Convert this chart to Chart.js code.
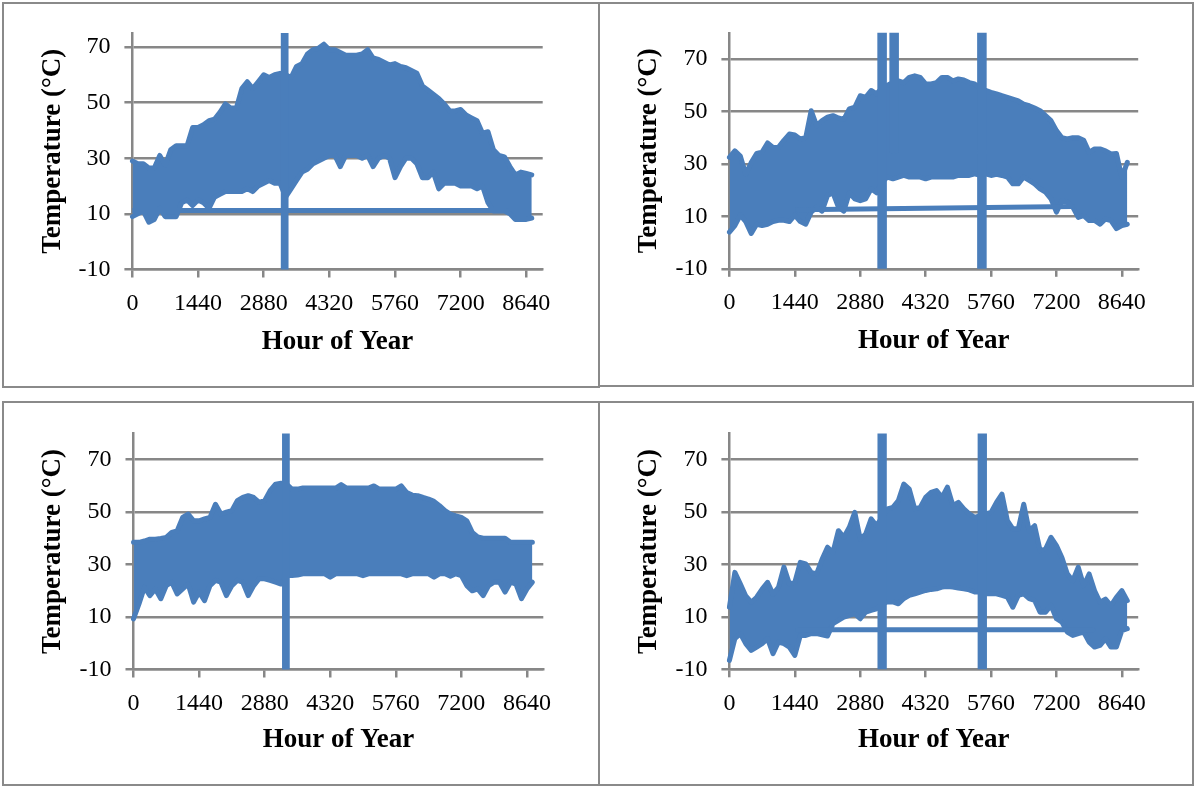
<!DOCTYPE html>
<html><head><meta charset="utf-8">
<script src="https://cdn.jsdelivr.net/npm/chart.js@4.4.0/dist/chart.umd.min.js"></script>
<style>
html,body{margin:0;padding:0;background:#fff;width:1195px;height:787px;overflow:hidden;}
.panel{position:absolute;box-sizing:border-box;border:2px solid #8a8a8a;background:#fff;}
.panel canvas{display:block;}
</style></head><body>
<div class="panel" style="left:2px;top:2px;width:598px;height:386px;"><canvas id="c1" width="594" height="382"></canvas></div>
<div class="panel" style="left:598px;top:2px;width:596px;height:385px;"><canvas id="c2" width="592" height="381"></canvas></div>
<div class="panel" style="left:2px;top:401px;width:598px;height:385px;"><canvas id="c3" width="594" height="381"></canvas></div>
<div class="panel" style="left:598px;top:401px;width:596px;height:385px;"><canvas id="c4" width="592" height="381"></canvas></div>
<script>
// ---- data ----
const hours = [0,120,240,360,480,600,720,840,960,1080,1200,1320,1440,1560,1680,1800,1920,2040,2160,2280,2400,2520,2640,2760,2880,3000,3120,3240,3360,3480,3600,3720,3840,3960,4080,4200,4320,4440,4560,4680,4800,4920,5040,5160,5280,5400,5520,5640,5760,5880,6000,6120,6240,6360,6480,6600,6720,6840,6960,7080,7200,7320,7440,7560,7680,7800,7920,8040,8160,8280,8400,8520,8640,8760];
const xTickValues = [0,1440,2880,4320,5760,7200,8640];
const xTickLabels = ['0','1440','2880','4320','5760','7200','8640'];
const yTickValues = [-10,10,30,50,70];
const yTickLabels = ['-10','10','30','50','70'];

// top-left panel
const tlHi = [29,28,28,26.5,26.5,31,27.5,33,34.5,34.5,34.5,41,41,42,43.5,44,46.5,49.5,48,48,55,57.5,55,57.5,60,59,60,60.5,60,59,63,64,67.5,69,69.5,71,69,69,68,67,67,67,67.5,69,66,65.5,64.5,63.5,64,63,62.5,61.5,60.5,56,54.5,53,51.5,49.5,47,47,47.5,45.5,44.5,43.5,39,39.5,33,31,30.5,27,24,25,24.5,24];
const tlLo = [9,10,11,7,8,12,9,9,9,14,15,13,15,14,12,16,17,18,18,18,18,19,18,20,21,22,21,21,16,19,22,25,26,28,29,30,31,31,27,31,31,31,30,31,27,30,31,30,23,27,30,30,28,23,23,25,19,21,21,21,20,20,20,19,20,14,11,11,11,10,8,8,8,8.5];
const tlFlatHours = [0,8200];
const tlFlatTemps = [11.2,11.2];
const tlSpikeHours = [3310,3310,3370,3370];
const tlSpikeTemps = [-100,200,200,-100];

// top-right panel
const trHi = [32.5,35,33,26,30.5,34,34.5,38,36.3,36.3,39,41.4,41,39.5,40,50.3,44.6,46.5,47.8,48.4,47.5,47,51,51.6,56,55.4,58,56.7,59,60,61,61.7,61,63,63.6,63,60.5,60.5,61,63,63,61.7,62.4,62,61,60.5,59,58,57.3,56.7,56,55.4,54.7,54,52.8,52.2,51.3,50.3,48.4,46.5,42.7,40,39.5,40,40,39,34.4,35.7,35.7,35,33.8,34,24.8,30.6];
const trLo = [4,6.5,10.5,8,3.5,7,6.5,7,8,8.5,8.5,8,10.5,8,7,11.6,13.5,12,18,19,13.5,12,19,16.7,16,16.7,20.5,19,23,25,24.3,25,25.6,25,25,25,24.3,25,25,25,25,25,25.6,25.6,25.6,26.2,25.6,26.2,25.6,26,25.6,25,22.4,22.4,25,23.7,22.4,20.5,19.2,16.7,11.6,16,15.4,13.5,9.6,10.3,8.4,8.4,7,9,8.4,5.3,6.5,7];
const trFlatHours = [1500,7550];
const trFlatTemps = [12.5,13.8];
const trSpikeHours = [3312,3312,3412,3412,3450,3577,3577,3677,3677,3700,5509,5509,5609,5609];
const trSpikeTemps = [-100,200,200,-100,null,35,200,200,35,null,-100,200,200,-100];

// bottom-left panel
const blHi = [38.5,38.5,39,39.7,39.7,40,40.4,42.3,42.9,48,49.3,46.7,46.7,47.4,48,53,49.3,50,50.6,54.4,55.6,56.3,55.6,53.7,54.4,58.2,60.7,61,60.7,58.8,58.8,59.2,59.2,59.2,59.2,59.2,59.2,59.2,60.5,59.2,59.2,59.2,59.2,59.2,60,58.8,58.8,58.8,58.8,60,57.5,56.5,56.3,55.6,55,54.1,52.5,50.6,49.3,48.6,48,46.7,42.3,40.6,40.1,40.1,40.1,40.1,40.1,38.5,38.5,38.5,38.5,38.5];
const blLo = [9.3,15,21.4,18.2,20.7,17,22,23.3,18.8,20.7,22.6,15.7,19.5,16.3,22,24,23.3,18.2,22,24,23.3,18.2,22,24.6,24.6,24,23.3,22.6,25.8,25.8,26,26.5,26.5,26.5,26.5,26.5,25.2,26.5,26.5,26.5,26.5,26.5,25.8,26.5,26.5,26.5,26.5,26.5,26.5,26.5,25.8,26.5,26.5,26.5,26.5,25.2,26.5,26.5,25.6,26.5,25.8,22,20,20.7,18.2,22,23.3,23.3,19.5,23.3,22.6,17,20.7,23.3];
const blFlatHours = [];
const blFlatTemps = [];
const blSpikeHours = [3317,3317,3377,3377];
const blSpikeTemps = [-100,200,200,-100];

// bottom-right panel
const brHi = [13.7,27,22.6,18,15.6,17.5,20.6,23.2,18.7,21.3,29,22.6,23.2,30.8,30.2,27,26.4,32,36.6,34.6,42.9,40.4,44.2,49.9,39.7,41.6,47.4,44.8,48,51.2,51.8,54.4,60.7,58.8,51.2,51.8,55.6,57.5,58.2,55.6,59.5,52.5,53.7,51.2,49.3,48,48.6,49.3,49.9,53.7,56.9,46.7,43.6,43.6,53,42.9,44.8,35.3,35.9,40.4,37.2,32.7,26.4,23.8,29,21.9,26.4,20,15.6,16.8,14.3,17.5,20,16.2];
const brLo = [-6.6,1.7,3.6,-0.2,-2.8,-1.5,-0.2,1.7,-4,0.4,-0.2,-1.5,-4.7,2.9,2.9,3.6,3.6,3.2,2.7,7.4,8.7,9.9,10.6,11.2,9.3,11.8,12.5,13.1,15,15.7,15.7,15,17,18.2,18.8,19.5,20.1,20.5,20.7,21.4,21.6,21.4,21,20.7,20.3,19.5,19.5,18.8,18.8,18.8,18.2,17.6,13.7,18.2,18.8,17,16.3,11.8,11.8,14.4,9.3,8,4.2,2.9,3.6,4.2,0.4,-1.5,-0.9,1.7,-1.5,-1.5,4.8,5.5];
const brFlatHours = [1500,8000];
const brFlatTemps = [5.1,5.1];
const brSpikeHours = [3315,3315,3410,3410,3450,5520,5520,5615,5615];
const brSpikeTemps = [-100,200,200,-100,null,-100,200,200,-100];

// ---- drawing ----
const BLUE = '#4a7ebb';
const GRID = '#878787';
const FONT = 'Liberation Serif';

function pts(xs, ys) { return xs.map((x, i) => ({x: x, y: ys[i]})); }

function lineDs(data, extra) {
  return Object.assign({
    data: data, borderColor: BLUE, backgroundColor: BLUE, borderWidth: 5,
    pointRadius: 0, pointHoverRadius: 0, tension: 0, fill: false,
    borderJoinStyle: 'round', borderCapStyle: 'round', spanGaps: false
  }, extra || {});
}

function makeChart(id, geo, hi, lo, flatH, flatT, spikeH, spikeT) {
  const bandClip = {left: 3, right: 3, top: 0, bottom: 0};
  new Chart(document.getElementById(id), {
    type: 'line',
    data: {datasets: [
      lineDs(pts(spikeH, spikeT)),
      lineDs(pts(flatH, flatT)),
      lineDs(pts(hours, lo), {clip: bandClip}),
      lineDs(pts(hours, hi), {fill: '-1', clip: bandClip})
    ]},
    options: {
      responsive: false, animation: false, devicePixelRatio: 1,
      events: [],
      layout: {padding: {top: geo.top, right: geo.right, left: 0, bottom: 0}},
      plugins: {legend: {display: false}, tooltip: {enabled: false}},
      scales: {
        x: {
          type: 'linear', min: 0, max: 9000,
          afterBuildTicks: s => { s.ticks = xTickValues.map(v => ({value: v})); },
          afterFit: s => { s.height = geo.xH; },
          grid: {drawOnChartArea: false, drawTicks: true, tickLength: 8, color: GRID, lineWidth: 2.5},
          border: {display: true, color: GRID, width: 2.5},
          ticks: {color: '#000', font: {family: FONT, size: 24}, padding: 12, maxRotation: 0, autoSkip: false,
                  callback: (v, i) => xTickLabels[i]},
          title: {display: true, text: 'Hour of Year', color: '#000',
                  font: {family: FONT, size: 27, weight: 'bold'}, padding: {top: 0, bottom: 28}}
        },
        y: {
          type: 'linear', min: -10, max: geo.ymax,
          afterBuildTicks: s => { s.ticks = yTickValues.map(v => ({value: v})); },
          afterFit: s => { s.width = geo.yW; },
          grid: {drawOnChartArea: true, drawTicks: true, tickLength: 8, color: GRID, lineWidth: 2.5},
          border: {display: true, color: GRID, width: 2.5},
          ticks: {color: '#000', font: {family: FONT, size: 24}, padding: 14,
                  callback: (v, i) => yTickLabels[i]},
          title: {display: true, text: 'Temperature (°C)', color: '#000',
                  font: {family: FONT, size: 27, weight: 'bold'}, padding: {top: 33, bottom: 0}}
        }
      }
    }
  });
}

makeChart('c1', {top: 29, right: 55.3, yW: 128.4, xH: 116.5, ymax: 75}, tlHi, tlLo, tlFlatHours, tlFlatTemps, tlSpikeHours, tlSpikeTemps);
makeChart('c2', {top: 28.8, right: 53.8, yW: 129.4, xH: 116.2, ymax: 80}, trHi, trLo, trFlatHours, trFlatTemps, trSpikeHours, trSpikeTemps);
makeChart('c3', {top: 30.5, right: 54.7, yW: 129.5, xH: 114.5, ymax: 80}, blHi, blLo, blFlatHours, blFlatTemps, blSpikeHours, blSpikeTemps);
makeChart('c4', {top: 30.5, right: 53.8, yW: 129.4, xH: 114.7, ymax: 80}, brHi, brLo, brFlatHours, brFlatTemps, brSpikeHours, brSpikeTemps);
</script>
</body></html>
